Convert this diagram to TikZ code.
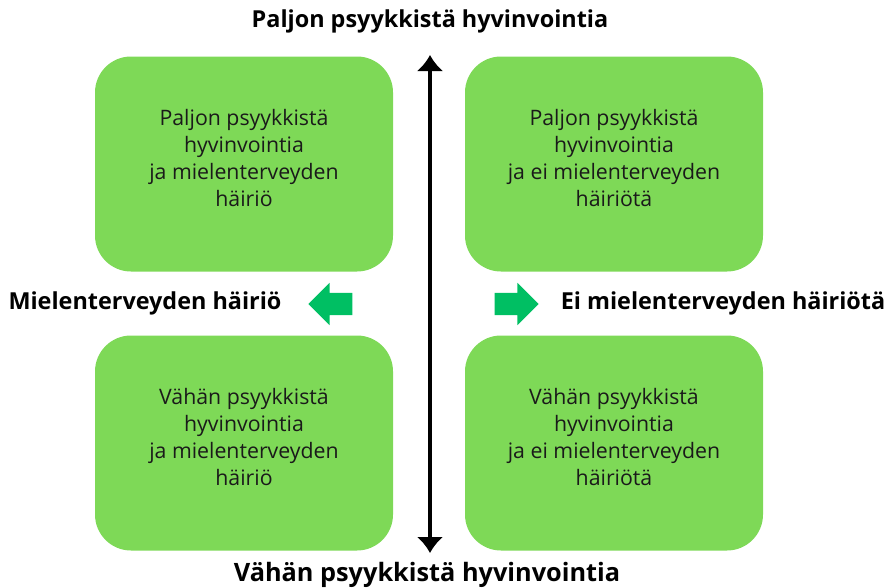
\documentclass[tikz,border=0pt]{standalone}
\usepackage{fontspec}
\setmainfont{Open Sans}
\usetikzlibrary{arrows.meta,shapes.arrows}

\definecolor{boxgreen}{HTML}{7ED957}
\definecolor{arrowgreen}{HTML}{00BF63}
\definecolor{boxtext}{HTML}{1A1A1A}

\begin{document}
\begin{tikzpicture}[x=1pt,y=-1pt,
    quadrant/.style={rectangle,rounded corners=36pt,fill=boxgreen,minimum width=298pt,minimum height=215pt},
    quadtext/.style={align=center,text=boxtext,font=\fontsize{21.3}{27.3}\selectfont},
    axislabel/.style={font=\fontsize{23.4}{28}\selectfont\bfseries},
    sidearrow/.style={single arrow,fill=arrowgreen,inner xsep=0pt,inner ysep=11pt,minimum height=44pt,
        single arrow head extend=10pt,single arrow head indent=0pt}]
    \useasboundingbox (0,0) rectangle (888,587);

    \node[quadrant] (TL) at (244,164) {};
    \node[quadrant] (TR) at (614,164) {};
    \node[quadrant] (BL) at (244,443) {};
    \node[quadrant] (BR) at (614,443) {};

    \node[quadtext] (TLt) at ([yshift=6pt]TL.center) {Paljon psyykkistä\\hyvinvointia\\ja mielenterveyden\\häiriö};
    \node[quadtext] (TRt) at ([yshift=6pt]TR.center) {Paljon psyykkistä\\hyvinvointia\\ja ei mielenterveyden\\häiriötä};
    \node[quadtext] (BLt) at ([yshift=6pt]BL.center) {Vähän psyykkistä\\hyvinvointia\\ja mielenterveyden\\häiriö};
    \node[quadtext] (BRt) at ([yshift=6pt]BR.center) {Vähän psyykkistä\\hyvinvointia\\ja ei mielenterveyden\\häiriötä};

    \node[axislabel] (N) at (430,21) {Paljon psyykkistä hyvinvointia};
    \node[axislabel,font=\fontsize{25.3}{30}\selectfont\bfseries] (S) at (427,575) {Vähän psyykkistä hyvinvointia};
    \node[axislabel] (W) at (145,303) {Mielenterveyden häiriö};
    \node[axislabel] (E) at (723,303) {Ei mielenterveyden häiriötä};

    \node[sidearrow,shape border rotate=180] (WA) at (336,304) {};
    \node[sidearrow] (EA) at (511,304) {};

    \coordinate (top) at (430,55);
    \coordinate (bottom) at (430,553);
    \draw[line width=3.8pt,{Latex[length=16pt,width=27pt]}-{Latex[length=16pt,width=27pt]}] (top) -- (bottom);
\end{tikzpicture}
\end{document}
